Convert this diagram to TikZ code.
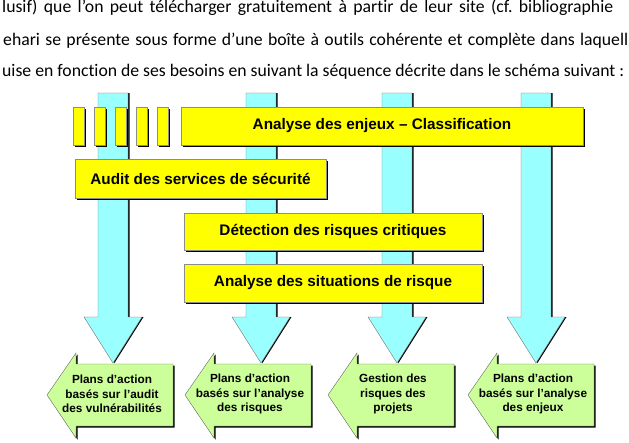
\documentclass[tikz,border=0pt]{standalone}
\usepackage{fontspec}
\setmainfont{Carlito}[Ligatures=NoCommon]
\newfontfamily\arialfont{Liberation Sans}
\usetikzlibrary{shadows}

\definecolor{stageyellow}{RGB}{255,255,0}
\definecolor{flowcyan}{RGB}{153,255,255}
\definecolor{plangreen}{RGB}{204,255,153}

\begin{document}
\frenchspacing
\begin{tikzpicture}[
 x=1pt, y=-1pt,
 shadowed/.style={drop shadow={shadow xshift=1.5pt,shadow yshift=-1.5pt,fill=black,opacity=1}},
 stage/.style={fill=stageyellow,draw=black!45,thin,shadowed},
 stagetext/.style={stage,font=\arialfont\bfseries\fontsize{15.3}{17}\selectfont,inner sep=0pt},
 flow/.style={fill=flowcyan,draw=black!55,thin,drop shadow={shadow xshift=1.5pt,shadow yshift=0pt,fill=black,opacity=1}},
 plan/.style={fill=plangreen,draw=black!60,thin,shadowed},
 plantext/.style={font=\arialfont\bfseries\fontsize{11.8}{14.5}\selectfont,align=center,inner sep=0pt},
 bodytext/.style={font=\fontsize{17.7}{20}\selectfont,anchor=base west,inner sep=0pt},
]
\useasboundingbox (0,0) rectangle (629,442);

% Running text above the schema
\node[bodytext] (line1) at (2,12) {\makebox[611pt][s]{lusif) que l’on peut télécharger gratuitement à partir de leur site (cf. bibliographie}};
\node[bodytext] (line2) at (3,45) {\makebox[625pt][s]{ehari se présente sous forme d’une boîte à outils cohérente et complète dans laquell}};
\node[bodytext] (line3) at (2,76) {uise en fonction de ses besoins en suivant la séquence décrite dans le schéma suivant :};

% Flow columns
\foreach \cx in {113,261,397,536}
    \draw[flow] ({\cx-15},93) -- ({\cx+15},93) -- ({\cx+15},317) -- ({\cx+29},317)
        -- (\cx,363) -- ({\cx-29},317) -- ({\cx-15},317) -- cycle;

% Stages
\foreach \i in {0,...,4}
    \draw[stage] ({73+21*\i},107) rectangle +(11,38);

\node[stagetext,minimum width=402pt,minimum height=38pt] (enjeux) at (382,126) {Analyse des enjeux – Classification};
\node[stagetext,minimum width=251pt,minimum height=39pt] (audit) at (200.5,178.5) {Audit des services de sécurité};
\node[stagetext,minimum width=298pt,minimum height=37pt] (detection) at (333,231.5) {Détection des risques critiques};
\node[stagetext,minimum width=298pt,minimum height=38pt] (situations) at (333,283) {Analyse des situations de risque};

% Action plans
\foreach \p/\name/\text in {47/audit/{Plans d’action\\basés sur l’audit\\des vulnérabilités},
                            185/risques/{Plans d’action\\basés sur l’analyse\\des risques},
                            328/projets/{Gestion des\\risques des\\projets},
                            468/enjeux/{Plans d’action\\basés sur l’analyse\\des enjeux}} {
    \draw[plan] (\p,395) -- ({\p+29},353) -- ({\p+29},364) -- ({\p+126},364)
        -- ({\p+126},426) -- ({\p+29},426) -- ({\p+29},438) -- cycle;
    \node[plantext] (plan\name) at ({\p+65},394) {\text};
}

\end{tikzpicture}
\end{document}
